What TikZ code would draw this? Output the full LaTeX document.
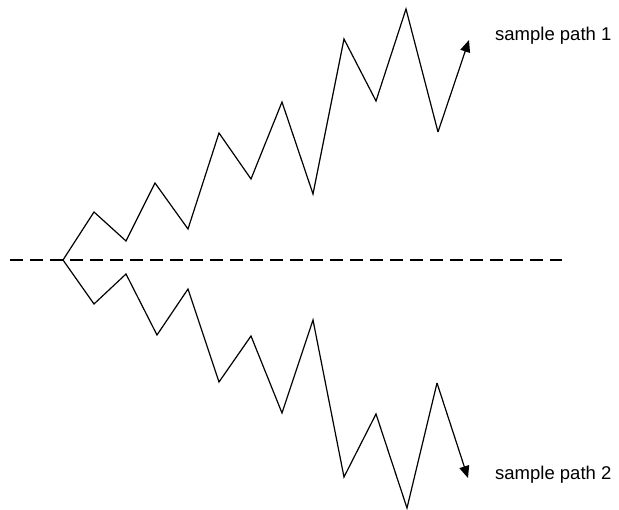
\documentclass[tikz,border=0pt]{standalone}
\usepackage{fontspec}
\setmainfont{Liberation Sans}
\usetikzlibrary{arrows.meta}
\begin{document}
\begin{tikzpicture}[x=1pt,y=-1pt,
  pathline/.style={line width=1.2pt,line join=miter},
  arrowed/.style={pathline,-{Triangle[length=12pt,width=10pt]}},
  axisline/.style={line width=1.2pt,dash pattern=on 13pt off 7pt},
  lbl/.style={anchor=base west,inner sep=0pt,font=\fontsize{18.5}{22}\selectfont}]
\useasboundingbox (0,0) rectangle (619,510);
% axis
\coordinate (a0) at (10,260);
\coordinate (a1) at (562,260);
\draw[axisline] (a0) -- (a1);
% upper path
\coordinate (s) at (63,260);
\coordinate (u1) at (94,212);
\coordinate (u2) at (126,241);
\coordinate (u3) at (155,183);
\coordinate (u4) at (188,229);
\coordinate (u5) at (219,133);
\coordinate (u6) at (251,179);
\coordinate (u7) at (282,102);
\coordinate (u8) at (313,194);
\coordinate (u9) at (344,39);
\coordinate (u10) at (376,101);
\coordinate (u11) at (406,9);
\coordinate (u12) at (438,132);
\coordinate (u13) at (469,40);
\draw[pathline] (s) -- (u1) -- (u2) -- (u3) -- (u4) -- (u5) -- (u6) -- (u7) -- (u8) -- (u9) -- (u10) -- (u11) -- (u12);
\draw[arrowed] (u12) -- (u13);
% lower path
\coordinate (l1) at (94,304);
\coordinate (l2) at (126,274);
\coordinate (l3) at (157,335);
\coordinate (l4) at (188,289);
\coordinate (l5) at (219,382);
\coordinate (l6) at (251,336);
\coordinate (l7) at (282,413);
\coordinate (l8) at (313,320);
\coordinate (l9) at (344,477);
\coordinate (l10) at (376,414);
\coordinate (l11) at (407,508);
\coordinate (l12) at (437,383);
\coordinate (l13) at (468,478);
\draw[pathline] (s) -- (l1) -- (l2) -- (l3) -- (l4) -- (l5) -- (l6) -- (l7) -- (l8) -- (l9) -- (l10) -- (l11) -- (l12);
\draw[arrowed] (l12) -- (l13);
% labels
\node[lbl] (t1) at (495,41) {sample path 1};
\node[lbl] (t2) at (495,480) {sample path 2};
\end{tikzpicture}
\end{document}
